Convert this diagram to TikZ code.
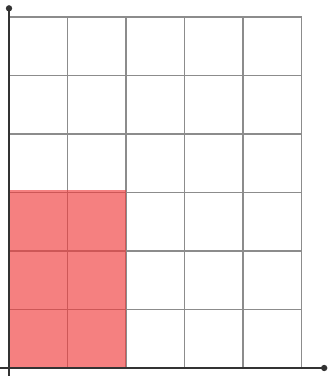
\documentclass[tikz,border=0pt]{standalone}
\usepackage{tikz}
\usetikzlibrary{arrows.meta}
\tikzstyle{gridline} = [draw=black!45, line width=0.7pt]
\tikzstyle{axis}     = [draw=black!80, line width=1pt, -{Circle[length=3pt]}]
\tikzstyle{shaded}   = [fill={rgb,255:red,240;green,60;blue,60}, fill opacity=0.65]

\begin{document}
\begin{tikzpicture}
    \useasboundingbox (-0.154,-0.137) rectangle (5.47,6.29);
    % grid of cells
    \draw [gridline] (0,0) grid (5,6);
    % shaded part
    \fill [shaded] (0,0) rectangle (2,3.04);
    % axes
    \draw [axis] (0,-0.14) -- (0,6.2);
    \draw [axis] (-0.15,0) -- (5.44,0);
\end{tikzpicture}
\end{document}
